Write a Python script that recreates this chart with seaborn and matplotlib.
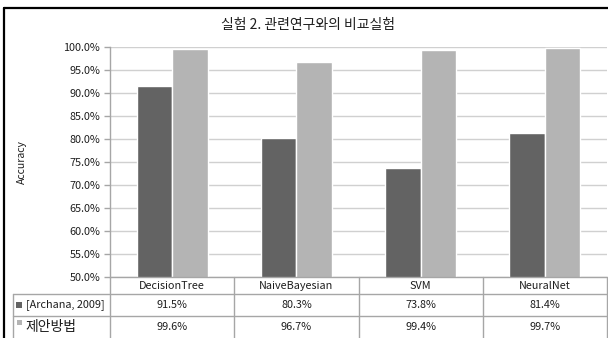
import matplotlib
matplotlib.use("Agg")
import matplotlib.pyplot as plt
import seaborn as sns
import pandas as pd
from matplotlib.lines import Line2D
from matplotlib.patches import Rectangle
from matplotlib.ticker import FuncFormatter, MultipleLocator

# ---- data ----
models = ["DecisionTree", "NaiveBayesian", "SVM", "NeuralNet"]
series_names = ["[Archana, 2009]", "제안방법"]
archana_acc = [91.5, 80.3, 73.8, 81.4]
proposed_acc = [99.6, 96.7, 99.4, 99.7]
title = "실험 2. 관련연구와의 비교실험"
y_label = "Accuracy"

dark = "#636363"
light = "#b4b4b4"
grid_c = "#d0d0d0"
line_c = "#a6a6a6"
txt_c = "#1e1e1e"

sns.set_theme(style="white")
plt.rcParams["font.family"] = ["Noto Sans CJK KR", "DejaVu Sans"]

df = pd.DataFrame({
    "model": models * 2,
    "method": [series_names[0]] * 4 + [series_names[1]] * 4,
    "acc": archana_acc + proposed_acc,
})

W, H = 608, 338
fig = plt.figure(figsize=(W / 100, H / 100), dpi=100)
fig.patch.set_facecolor("white")


def fx(x):
    return x / W


def fy(y):
    return 1 - y / H


x0, x1, ytop, ybot = 110, 607, 47, 277
ax = fig.add_axes([fx(x0), fy(ybot), fx(x1) - fx(x0), (ybot - ytop) / H])

sns.barplot(data=df, x="model", y="acc", hue="method",
            palette=[dark, light], width=0.57, saturation=1,
            ax=ax, legend=False, zorder=3)

ax.set_ylim(50, 100)
ax.yaxis.set_major_locator(MultipleLocator(5))
ax.yaxis.set_major_formatter(FuncFormatter(lambda v, _: f"{v:.1f}%"))
ax.grid(axis="y", color=grid_c, lw=1, zorder=0)
ax.set_axisbelow(True)
ax.set_xticks([])
ax.set_xlabel("")
ax.set_ylabel("")
for s in ["top", "right", "bottom"]:
    ax.spines[s].set_visible(False)
ax.spines["left"].set_color(line_c)
ax.spines["left"].set_linewidth(1)
ax.tick_params(axis="y", which="major", left=True, length=4, width=1,
               color=line_c, labelsize=7.8, labelcolor=txt_c, pad=3)

fig.text(fx(22), fy(162), y_label, rotation=90, ha="center", va="center",
         fontsize=7.5, color=txt_c)
fig.text(fx(308), fy(25), title, ha="center", va="center",
         fontsize=10, color=txt_c)

# ---- data table under the plot ----
col_edges = [x0 + (x1 - x0) * k / 4 for k in range(5)]
tbl_left = 13


def hline(y, xa, xb):
    fig.add_artist(Line2D([fx(xa), fx(xb)], [fy(y), fy(y)], color=line_c, lw=1))


def vline(x, ya, yb):
    fig.add_artist(Line2D([fx(x), fx(x)], [fy(ya), fy(yb)], color=line_c, lw=1))


hline(277, x0, x1)
hline(294, tbl_left, x1)
hline(316, tbl_left, x1)
for cx in col_edges:
    vline(cx, 277, 340)
vline(tbl_left, 294, 340)

row_text_y = [286, 305, 327]
for i, m in enumerate(models):
    cx = (col_edges[i] + col_edges[i + 1]) / 2
    fig.text(fx(cx), fy(row_text_y[0]), m, ha="center", va="center",
             fontsize=7.8, color=txt_c)
    fig.text(fx(cx), fy(row_text_y[1]), f"{archana_acc[i]:.1f}%",
             ha="center", va="center", fontsize=7.8, color=txt_c)
    fig.text(fx(cx), fy(row_text_y[2]), f"{proposed_acc[i]:.1f}%",
             ha="center", va="center", fontsize=7.8, color=txt_c)

# legend keys and series names
fig.add_artist(Rectangle((fx(16), fy(307.5)), 5.5 / W, 5.5 / H,
                         transform=fig.transFigure, color=dark, lw=0))
fig.add_artist(Rectangle((fx(17), fy(324.5)), 4.5 / W, 4.5 / H,
                         transform=fig.transFigure, color=light, lw=0))
fig.text(fx(25.5), fy(row_text_y[1]), series_names[0], ha="left", va="center",
         fontsize=7.8, color=txt_c)
fig.text(fx(25.5), fy(row_text_y[2]), series_names[1], ha="left", va="center",
         fontsize=10, color=txt_c)

# outer chart frame (clipped at the right and bottom edges)
fig.add_artist(Line2D([fx(4), fx(4)], [fy(8), fy(340)], color="black", lw=1.6))
fig.add_artist(Line2D([fx(4), fx(610)], [fy(8), fy(8)], color="black", lw=1.6))

fig.savefig("out.png", dpi=100, facecolor="white")
